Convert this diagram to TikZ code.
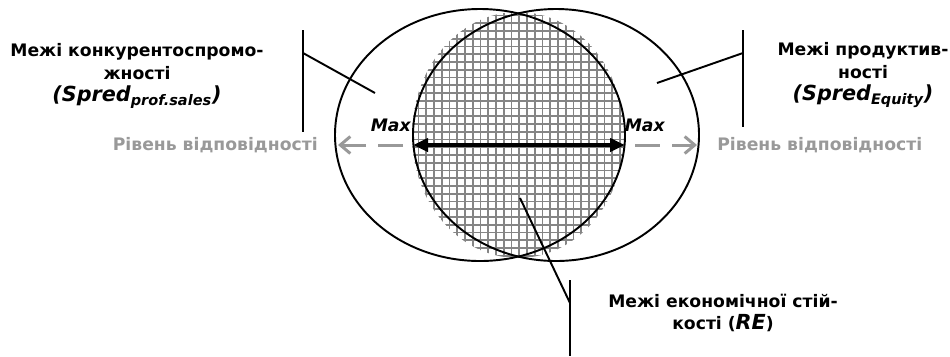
\documentclass[tikz,border=0pt]{standalone}
\usepackage{fontspec}
\setmainfont{DejaVu Sans}
\usetikzlibrary{arrows.meta,positioning}
\definecolor{levelgray}{gray}{0.6}
\definecolor{meshgray}{gray}{0.52}
\newcommand\spredfont{\fontsize{11.8}{14}\selectfont\bfseries\itshape}

\begin{document}
\begin{tikzpicture}[
  x=0.02cm, y=-0.02cm,
  font=\fontsize{9.8}{12.8}\selectfont\bfseries,
  bound/.style={align=center, inner sep=0pt},
  maxtag/.style={inner sep=0pt, font=\fontsize{9.8}{12}\selectfont\bfseries\itshape},
  levelnote/.style={inner sep=0pt, text=levelgray},
  shell/.style={line width=1.1pt},
  leader/.style={line width=1.1pt},
  mesh/.style={draw=meshgray, line width=1pt, step=0.155cm},
  span/.style={{Triangle[length=3mm,width=2.6mm]}-{Triangle[length=3mm,width=2.6mm]}, line width=2.2pt},
  reach/.style={-{Straight Barb[length=2mm,width=3.4mm]}, draw=levelgray, line width=1.7pt, dash pattern=on 5mm off 2.4mm}
]
  \useasboundingbox (0,0) rectangle (950,356);

  \begin{scope}
    \clip (518,135) ellipse [x radius=106, y radius=123];
    \draw[mesh] (405,265) grid (635,5);
  \end{scope}

  \draw[shell] (480,135) ellipse [x radius=145, y radius=126];
  \draw[shell] (556,135) ellipse [x radius=143, y radius=126];

  \coordinate (spanL) at (413,145);
  \coordinate (spanR) at (625,145);
  \coordinate (reachL) at (338,145);
  \coordinate (reachR) at (697,145);
  \coordinate (gapL) at (403,145);
  \coordinate (gapR) at (635,145);

  \draw[span] (spanL) -- (spanR);
  \draw[reach] (gapL) -- (reachL);
  \draw[reach] (gapR) -- (reachR);

  \node[maxtag, above left=2.6mm and 0.4mm of spanL] (maxL) {Max};
  \node[maxtag, above right=2.6mm and -0.1mm of spanR] (maxR) {Max};
  \node[levelnote, left=4mm of reachL] (levelL) {Рівень відповідності};
  \node[levelnote, right=4mm of reachR] (levelR) {Рівень відповідності};

  \node[bound] (competL) at (137,76) {Межі конкурентоспромо-\\жності\\{\spredfont(Spred\textsubscript{prof.sales})}};
  \node[bound] (productR) at (863,75) {Межі продуктив-\\ності\\{\spredfont(Spred\textsubscript{Equity})}};
  \node[bound] (stableB) at (723,313) {Межі економічної стій-\\кості ({\spredfont RE})};

  \coordinate (barLtop) at (303,30);
  \coordinate (barLbot) at (303,132);
  \coordinate (barLmid) at (303,53);
  \coordinate (pinL) at (375,93);
  \coordinate (barRtop) at (743,30);
  \coordinate (barRbot) at (743,127);
  \coordinate (barRmid) at (743,53);
  \coordinate (pinR) at (657,83);
  \coordinate (barBtop) at (570,280);
  \coordinate (barBbot) at (570,356);
  \coordinate (barBmid) at (570,303);
  \coordinate (pinB) at (520,198);

  \draw[leader] (barLtop) -- (barLbot);
  \draw[leader] (barLmid) -- (pinL);
  \draw[leader] (barRtop) -- (barRbot);
  \draw[leader] (barRmid) -- (pinR);
  \draw[leader] (barBtop) -- (barBbot);
  \draw[leader] (barBmid) -- (pinB);
\end{tikzpicture}
\end{document}
